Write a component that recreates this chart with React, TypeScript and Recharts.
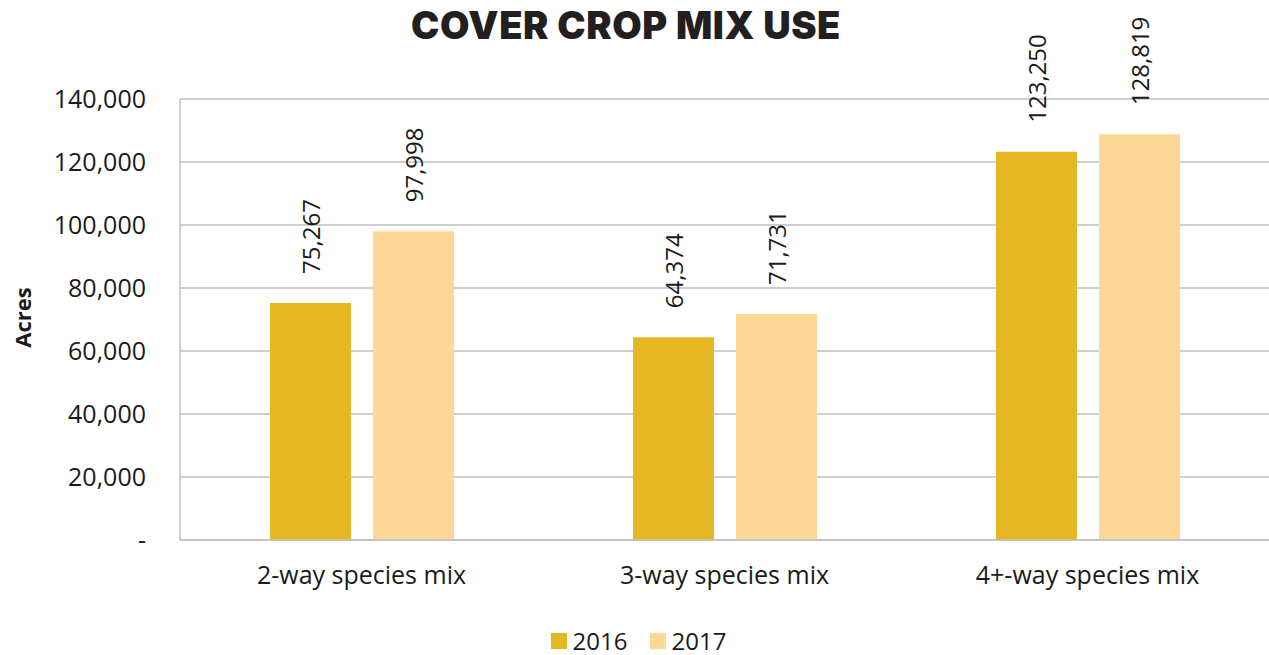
import { BarChart, Bar, XAxis, YAxis, CartesianGrid, Legend, LabelList } from "recharts";

const categories = ["2-way species mix", "3-way species mix", "4+-way species mix"];
const acres2016 = [75267, 64374, 123250];
const acres2017 = [97998, 71731, 128819];
const yTicks = [0, 20000, 40000, 60000, 80000, 100000, 120000, 140000];

const data = categories.map((name, i) => ({ name, y2016: acres2016[i], y2017: acres2017[i] }));

const font = "'Open Sans', 'Noto Sans', sans-serif";
const fmt = (v: number) => (v === 0 ? "-" : v.toLocaleString("en-US"));

const ValueLabel = (props: any) => {
  const { x, y, width, value } = props;
  const cx = x + width / 2;
  const cy = y - 29;
  return (
    <text
      x={cx}
      y={cy}
      transform={`rotate(-90 ${cx} ${cy})`}
      textAnchor="start"
      dominantBaseline="central"
      fontSize={24}
      fontFamily={font}
      fill="#1a1a1a"
    >
      {fmt(value)}
    </text>
  );
};

const AcresLabel = (props: any) => {
  const { viewBox } = props;
  const cx = 22;
  const cy = viewBox.y + viewBox.height / 2 - 2;
  return (
    <text
      x={cx}
      y={cy}
      transform={`rotate(-90 ${cx} ${cy})`}
      textAnchor="middle"
      dominantBaseline="central"
      fontSize={22}
      fontWeight={700}
      fontFamily={font}
      fill="#1a1a1a"
    >
      Acres
    </text>
  );
};

const LegendContent = (props: any) => {
  const { payload } = props;
  return (
    <div
      style={{
        display: "flex",
        justifyContent: "center",
        gap: 22,
        height: 40,
        alignItems: "center",
        paddingLeft: 8,
        transform: "translateY(6px)",
      }}
    >
      {(payload || []).map((p: any) => (
        <div key={p.value} style={{ display: "flex", alignItems: "center", gap: 6 }}>
          <span style={{ width: 16, height: 16, background: p.color, display: "inline-block" }} />
          <span style={{ fontFamily: font, fontSize: 24, color: "#1a1a1a", lineHeight: "24px" }}>{p.value}</span>
        </div>
      ))}
    </div>
  );
};

export default function App() {
  return (
    <div style={{ position: "relative", width: 1269, height: 655, background: "#fff" }}>
      <style>{"body{margin:0}"}</style>
      <div
        style={{
          position: "absolute",
          top: 2,
          left: 0,
          width: 1252,
          textAlign: "center",
          fontFamily: "Inter, Roboto, sans-serif",
          fontWeight: 900,
          fontSize: 38,
          letterSpacing: 0.6,
          color: "#231f20",
          zIndex: 1,
        }}
      >
        COVER CROP MIX USE
      </div>
      <BarChart
        width={1269}
        height={655}
        data={data}
        margin={{ top: 99, right: 0, bottom: 0, left: 0 }}
        barSize={81}
        barGap={22}
      >
        <CartesianGrid vertical={false} stroke="#bfbfbf" strokeWidth={1.5} />
        <XAxis
          dataKey="name"
          height={75}
          tickSize={0}
          tickMargin={26}
          axisLine={{ stroke: "#bfbfbf", strokeWidth: 1.5 }}
          tick={{ fill: "#1a1a1a", fontSize: 25, fontFamily: font }}
        />
        <YAxis
          width={180}
          domain={[0, 140000]}
          ticks={yTicks}
          tickFormatter={fmt}
          tickSize={0}
          tickMargin={34}
          axisLine={{ stroke: "#bfbfbf", strokeWidth: 1.5 }}
          tick={{ fill: "#1a1a1a", fontSize: 25, fontFamily: font }}
          label={<AcresLabel />}
        />
        <Legend verticalAlign="bottom" height={40} content={<LegendContent />} />
        <Bar dataKey="y2016" name="2016" fill="#e5b823" isAnimationActive={false}>
          <LabelList dataKey="y2016" content={<ValueLabel />} />
        </Bar>
        <Bar dataKey="y2017" name="2017" fill="#fcd795" isAnimationActive={false}>
          <LabelList dataKey="y2017" content={<ValueLabel />} />
        </Bar>
      </BarChart>
    </div>
  );
}
